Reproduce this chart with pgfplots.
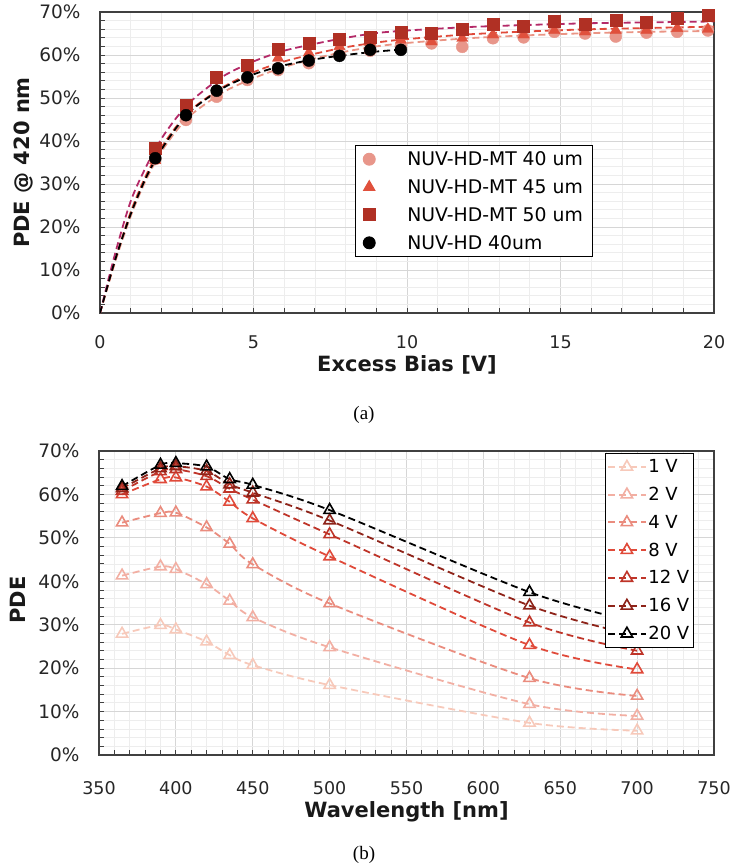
\documentclass[border=0pt]{standalone}
\usepackage{pgfplots}
\pgfplotsset{compat=1.18}
\usepackage{fontspec}
\setmainfont{DejaVu Sans}
\newfontfamily\capfont{Liberation Serif}
\definecolor{cMTa}{HTML}{E8968A}
\definecolor{cMTb}{HTML}{E0503C}
\definecolor{cMTc}{HTML}{B03024}
\definecolor{cFitc}{HTML}{B42A68}
\definecolor{cFitb}{HTML}{E04A3A}
\definecolor{cFita}{HTML}{EA9585}
\definecolor{vA}{HTML}{F7C9BA}
\definecolor{vB}{HTML}{F2AFA3}
\definecolor{vC}{HTML}{EA8C7E}
\definecolor{vD}{HTML}{E04A3A}
\definecolor{vE}{HTML}{BF3529}
\definecolor{vF}{HTML}{8E2319}
\pgfplotsset{
  common/.style={
    scale only axis,
    axis line style={draw=black!75, line width=1.2pt},
    tick align=inside,
    xtick pos=bottom, ytick pos=left,
    major tick length=5pt, minor tick length=5pt,
    every tick/.style={black!75, line width=0.9pt},
    grid=both,
    major grid style={black!16, line width=0.8pt},
    minor grid style={black!7, line width=0.8pt},
    ymin=0, ymax=70, ytick={0,10,...,70}, minor y tick num=4,
    yticklabel={\pgfmathprintnumber{\tick}\%},
    /pgf/number format/assume math mode=true,
    label style={font=\bfseries\fontsize{21}{24}\selectfont, black!90},
    yticklabel style={xshift=-16pt, font=\fontsize{18.5}{22}\selectfont, black!85},
    xticklabel style={yshift=-19pt, font=\fontsize{17.5}{21}\selectfont, black!85},
  }
}
\begin{document}
\begin{tikzpicture}
\path[use as bounding box] (0pt,-867pt) rectangle (729pt,0pt);
% ---------------- (a) ----------------
\begin{axis}[common,
  at={(100pt,-313pt)}, anchor=south west,
  width=614pt, height=301pt,
  xmin=0, xmax=20, xtick={0,5,...,20}, minor x tick num=4,
  xlabel={Excess Bias [V]}, ylabel={PDE @ 420 nm},
  xlabel style={at={(axis description cs:0.5,-0.173)}, anchor=center},
  ylabel style={at={(axis description cs:-0.124,0.5)}, anchor=center},
  legend style={at={(0.415,0.558)}, anchor=north west, draw=black, line width=0.9pt, fill=white,
    font=\fontsize{18.8}{22}\selectfont, row sep=8.5pt, inner xsep=8pt, inner ysep=4pt,
    cells={anchor=west}},
  legend image code/.code={\path[draw=none, fill=none] (0pt,0pt) -- (42pt,0pt); \draw[#1] plot coordinates {(6pt,0pt)};},
]
\addplot[only marks, mark=*, mark size=6pt, color=cMTa] coordinates {
(1.8,35.8)(2.8,44.9)(3.8,50.3)(4.8,54.2)(5.8,56.5)(6.8,58.1)(7.8,60.0)(8.8,61.0)(9.8,62.0)(10.8,62.7)
(11.8,61.9)(12.8,63.9)(13.8,64.1)(14.8,65.4)(15.8,65.0)(16.8,64.3)(17.8,65.2)(18.8,65.4)(19.8,65.7)};
\addlegendentry{NUV-HD-MT 40 um}
\addplot[only marks, mark=triangle*, mark size=6.5pt, color=cMTb] coordinates {
(1.8,35.5)(2.8,46.5)(3.8,52.0)(4.8,55.8)(5.8,59.3)(6.8,60.5)(7.8,62.0)(8.8,63.0)(9.8,63.5)(10.8,63.1)
(11.8,63.9)(12.8,64.7)(13.8,64.7)(14.8,65.7)(15.8,65.4)(16.8,65.7)(17.8,65.8)(18.8,66.2)(19.8,66.0)};
\addlegendentry{NUV-HD-MT 45 um}
\addplot[only marks, mark=square*, mark size=6pt, color=cMTc] coordinates {
(1.8,38.3)(2.8,48.4)(3.8,54.8)(4.8,57.7)(5.8,61.4)(6.8,62.7)(7.8,63.6)(8.8,64.2)(9.8,65.4)(10.8,65.0)
(11.8,66.0)(12.8,67.2)(13.8,66.8)(14.8,67.8)(15.8,67.2)(16.8,68.0)(17.8,67.6)(18.8,68.5)(19.8,69.3)};
\addlegendentry{NUV-HD-MT 50 um}
\addplot[only marks, mark=*, mark size=6pt, color=black] coordinates {
(1.8,36.0)(2.8,46.0)(3.8,51.7)(4.8,54.8)(5.8,56.9)(6.8,58.7)(7.8,59.8)(8.8,61.2)(9.8,61.2)};
\addlegendentry{NUV-HD 40um}
% fitted curves
\addplot[forget plot, smooth, color=cFita, line width=1.8pt, dash pattern=on 7pt off 4pt] coordinates {
(0,0)(0.5,12)(1,22.5)(1.5,31)(2,37.5)(2.5,42.5)(3,46.3)(4,51.3)(5,54.6)(6,57.2)(7,59.2)(8,60.8)(9,62)(10,62.8)(12,63.9)(14,64.6)(16,65.1)(18,65.4)(20,65.6)};
\addplot[forget plot, smooth, color=cFitb, line width=1.8pt, dash pattern=on 7pt off 4pt] coordinates {
(0,0)(0.5,12.5)(1,23.5)(1.5,32)(2,38.5)(2.5,43.5)(3,47.5)(4,52.5)(5,56)(6,58.5)(7,60.3)(8,61.8)(9,62.9)(10,63.7)(12,64.8)(14,65.5)(16,66)(18,66.3)(20,66.6)};
\addplot[forget plot, smooth, color=cFitc, line width=1.8pt, dash pattern=on 7pt off 4pt] coordinates {
(0,0)(0.5,14)(1,26)(1.5,34)(2,40.5)(2.5,45.5)(3,49.5)(4,55)(5,58.5)(6,61)(7,62.6)(8,64)(9,65.1)(10,65.7)(12,66.5)(14,67)(16,67.4)(18,67.6)(20,67.8)};
\addplot[forget plot, smooth, color=black, line width=1.8pt, dash pattern=on 7pt off 4pt] coordinates {
(0,0)(0.5,12.5)(1,23)(1.5,31.5)(2,38)(2.5,43.2)(3,47.3)(4,52.3)(5,55.5)(6,57.6)(7,59)(8,60)(9,60.8)(9.9,61.3)};
\end{axis}
\node[font=\capfont\fontsize{19}{22}\selectfont] at (364pt,-415pt) {(a)};
% ---------------- (b) ----------------
\begin{axis}[common,
  at={(99pt,-755pt)}, anchor=south west,
  width=615pt, height=304pt,
  xmin=350, xmax=750, xtick={350,400,...,750}, minor x tick num=4,
  xticklabel style={yshift=-4pt},
  xlabel={Wavelength [nm]}, ylabel={PDE},
  xlabel style={at={(axis description cs:0.5,-0.186)}, anchor=center},
  ylabel style={at={(axis description cs:-0.1325,0.51)}, anchor=center},
  legend style={at={(0.967,0.993)}, anchor=north east, draw=black, line width=0.9pt, fill=white,
    font=\fontsize{18}{21}\selectfont, row sep=9pt, inner xsep=2pt, inner ysep=4pt,
    cells={anchor=west}},
  legend image code/.code={\draw[#1, mark repeat=2, mark phase=2] plot coordinates {(0pt,0pt)(18.5pt,0pt)(37pt,0pt)};},
  every axis plot/.append style={smooth, line width=1.8pt, dash pattern=on 7pt off 4pt,
    mark=triangle, mark size=6.5pt, mark options={solid, line width=1.6pt, fill=white}},
]
\addplot[color=vA] coordinates {(365,27.9)(390,29.9)(400,28.9)(420,26.1)(435,23.0)(450,20.7)(500,16.1)(630,7.4)(700,5.6)};
\addlegendentry{1 V}
\addplot[color=vB] coordinates {(365,41.3)(390,43.4)(400,42.8)(420,39.3)(435,35.5)(450,31.7)(500,24.8)(630,11.7)(700,9.0)};
\addlegendentry{2 V}
\addplot[color=vC] coordinates {(365,53.5)(390,55.7)(400,55.8)(420,52.4)(435,48.6)(450,43.9)(500,34.9)(630,17.7)(700,13.6)};
\addlegendentry{4 V}
\addplot[color=vD] coordinates {(365,60.0)(390,63.5)(400,63.9)(420,61.8)(435,58.3)(450,54.5)(500,45.7)(630,25.3)(700,19.7)};
\addlegendentry{8 V}
\addplot[color=vE] coordinates {(365,60.8)(390,65.3)(400,65.8)(420,64.2)(435,61.3)(450,58.8)(500,50.8)(630,30.5)(700,24.0)};
\addlegendentry{12 V}
\addplot[color=vF] coordinates {(365,61.4)(390,66.0)(400,66.5)(420,65.4)(435,62.3)(450,60.4)(500,54.0)(630,34.4)(700,27.5)};
\addlegendentry{16 V}
\addplot[color=black] coordinates {(365,61.9)(390,66.8)(400,67.2)(420,66.4)(435,63.5)(450,62.2)(500,56.4)(630,37.5)(700,30.5)};
\addlegendentry{20 V}
\end{axis}
\node[font=\capfont\fontsize{19}{22}\selectfont] at (364pt,-855pt) {(b)};
\end{tikzpicture}
\end{document}
